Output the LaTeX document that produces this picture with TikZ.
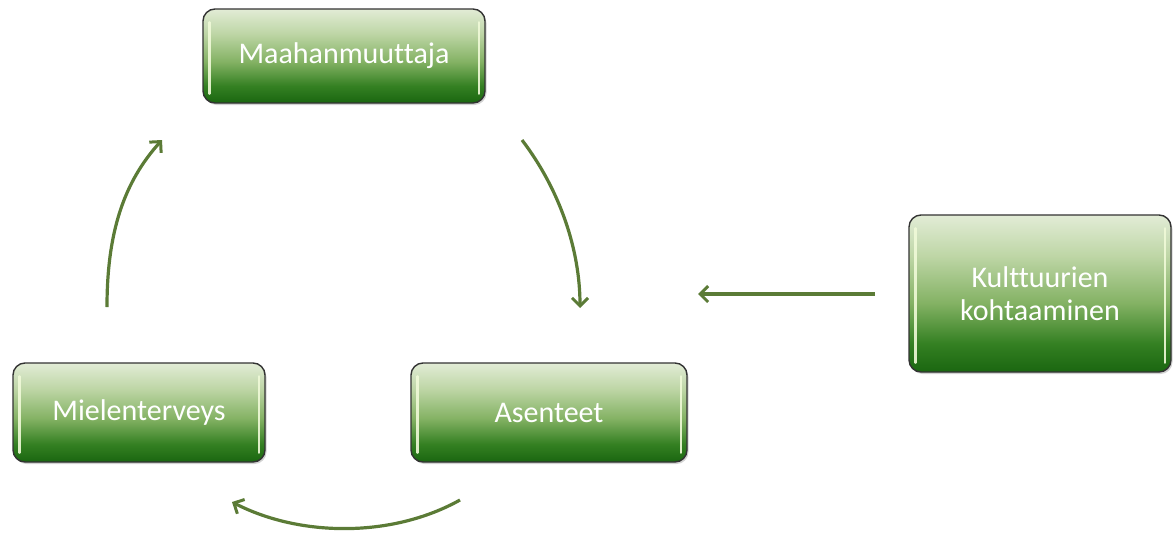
\documentclass[tikz,border=0pt]{standalone}
\usepackage{fontspec}
\setmainfont[Ligatures=NoCommon]{Carlito}
\usetikzlibrary{arrows.meta,shadows}
\definecolor{arrowgreen}{HTML}{5B7B36}
\definecolor{shine}{HTML}{F0FAD8}
% glossy green fill, dark at the bottom and pale at the top
% (the box spans the band 25bp..75bp of the shading)
\pgfdeclareverticalshading{glossgreen}{100bp}{
  color(0bp)=({rgb,255:red,26;green,102;blue,16});
  color(25bp)=({rgb,255:red,26;green,102;blue,16});
  color(34bp)=({rgb,255:red,52;green,128;blue,34});
  color(47bp)=({rgb,255:red,132;green,178;blue,100});
  color(62bp)=({rgb,255:red,190;green,214;blue,166});
  color(75bp)=({rgb,255:red,226;green,236;blue,214});
  color(100bp)=({rgb,255:red,226;green,236;blue,214})}
\tikzset{
  greenbox/.style={draw=black!80, line width=1.4pt, rounded corners=12pt,
    shading=glossgreen, inner sep=0pt, align=center, text=white,
    font=\fontsize{30}{33}\selectfont,
    drop shadow={shadow xshift=1.5pt, shadow yshift=-2pt, opacity=0.35}},
  flow/.style={draw=arrowgreen, line width=3.2pt,
    -{Straight Barb[length=8pt,width=16pt,line width=3pt]}},
  shinebar/.style={draw=shine, line width=2.4pt, line cap=round, opacity=0.9}
}
\begin{document}
\begin{tikzpicture}[x=1pt,y=-1pt]
  \useasboundingbox (0,0) rectangle (1175,533);

  % the four boxes
  \node[greenbox, minimum width=282pt, minimum height=94pt] (maa) at (344,56) {Maahanmuuttaja};
  \node[greenbox, minimum width=262pt, minimum height=157pt] (kult) at (1040,293.5) {Kulttuurien\\kohtaaminen};
  \node[greenbox, minimum width=252pt, minimum height=99pt] (mie) at (139,412.5) {Mielenterveys};
  \node[greenbox, minimum width=276pt, minimum height=99pt] (ase) at (549,412.5) {Asenteet};

  % glossy highlights along the side edges
  \foreach \n in {maa,kult,mie,ase}{
    \draw[shinebar] ([xshift=7pt,yshift=-14pt]\n.north west) -- ([xshift=7pt,yshift=10pt]\n.south west);
    \draw[shinebar] ([xshift=-7pt,yshift=-14pt]\n.north east) -- ([xshift=-7pt,yshift=10pt]\n.south east);
  }

  % end points of the cycle arrows
  \coordinate (a1s) at (107,307);
  \coordinate (a1e) at (162,140);
  \coordinate (a2s) at (522,140);
  \coordinate (a2e) at (580,308);
  \coordinate (a3s) at (460,500);
  \coordinate (a3e) at (232,502);
  \coordinate (a4s) at (875,294);
  \coordinate (a4e) at (698,294);

  \draw[flow] (a1s) .. controls (107,232) and (124,182) .. (a1e);
  \draw[flow] (a2s) .. controls (560,190) and (580,250) .. (a2e);
  \draw[flow] (a3s) .. controls (392,538) and (300,537) .. (a3e);
  \draw[flow] (a4s) -- (a4e);
\end{tikzpicture}
\end{document}
